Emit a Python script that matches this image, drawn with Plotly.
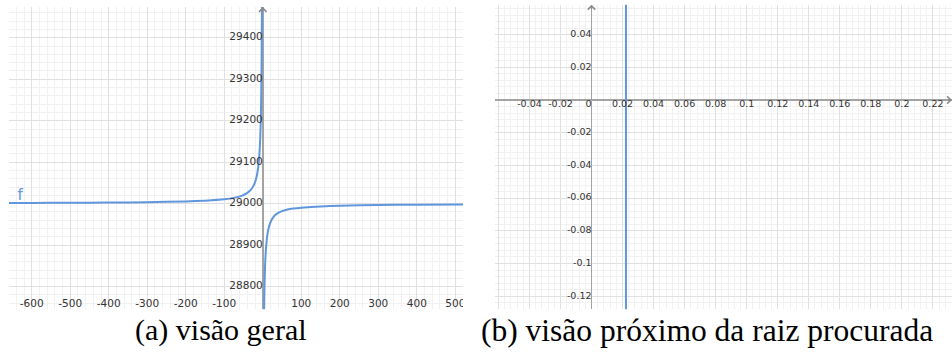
import plotly.graph_objects as go

# ---------------- data ----------------
# panel (a): function f, two branches around the vertical asymptote near x = 0
a_left_x = [-659, -600, -500, -400, -300, -200, -150, -100, -75, -55, -41, -30, -22, -16, -12,
            -10, -8, -6.5, -5.2, -4.2, -3.5, -3, -2.6, -2.2, -1.9]
a_left_y = [29001.7, 29001.9, 29002.3, 29002.8, 29003.6, 29005.4, 29007.2, 29010.5, 29014, 29019,
            29025.5, 29034.5, 29047, 29065, 29087, 29104, 29130, 29160, 29200, 29248, 29297,
            29347, 29400, 29473, 29547]
a_right_x = [3.2, 3.8, 4.5, 5.5, 6.5, 8, 10, 12, 15, 20, 27, 37, 50, 70, 100, 150, 200, 300, 400, 520]
a_right_y = [28719, 28763, 28800, 28836, 28862, 28888, 28910, 28925, 28940, 28955, 28967, 28976,
             28982, 28987, 28990, 28993.5, 28995.3, 28996.8, 28997.5, 28998]
a_xticks = [-600, -500, -400, -300, -200, -100, 100, 200, 300, 400, 500]
a_yticks = [28800, 28900, 29000, 29100, 29200, 29300, 29400]
a_label_f = ["f"]
a_label_fx = [-630]
a_label_fy = [29018]

# panel (b): zoom near the root (curve looks vertical)
b_curve_x = [0.0222, 0.0222]
b_curve_y = [-0.14, 0.07]
b_xticks = [-0.04, -0.02, 0.02, 0.04, 0.06, 0.08, 0.1, 0.12, 0.14, 0.16, 0.18, 0.2, 0.22]
b_xtick_text = ["-0.04", "-0.02", "0.02", "0.04", "0.06", "0.08", "0.1", "0.12", "0.14",
                "0.16", "0.18", "0.2", "0.22"]
b_yticks = [0.04, 0.02, -0.02, -0.04, -0.06, -0.08, -0.1, -0.12]
b_ytick_text = ["0.04", "0.02", "-0.02", "-0.04", "-0.06", "-0.08", "-0.1", "-0.12"]

captions = ["(a) visão geral", "(b) visão próximo da raiz procurada"]

# ---------------- styles ----------------
W, H = 952, 353
BLUE = "#6096dc"
GRID = "#e0e0e0"
MINOR = "#f1f1f1"
AXIS = "#a3a3a3"
TXT = "#333333"
TICKFONT = "DejaVu Sans"

A_X = [-659, 520]
A_Y = [28745.5, 29474]
B_X = [-0.0622, 0.2323]
B_Y = [-0.128, 0.0583]

fig = go.Figure()

# panel (a) curve
fig.add_trace(go.Scatter(x=a_left_x, y=a_left_y, mode="lines",
                         line=dict(color=BLUE, width=2, shape="spline", smoothing=0.5),
                         xaxis="x", yaxis="y", hoverinfo="skip"))
fig.add_trace(go.Scatter(x=a_right_x, y=a_right_y, mode="lines",
                         line=dict(color=BLUE, width=2, shape="spline", smoothing=0.5),
                         xaxis="x", yaxis="y", hoverinfo="skip"))
# panel (a) tick labels
fig.add_trace(go.Scatter(x=a_xticks, y=[A_Y[0]] * len(a_xticks), mode="text",
                         text=[str(v) for v in a_xticks], textposition="top center",
                         textfont=dict(family=TICKFONT, size=10.5, color=TXT),
                         xaxis="x", yaxis="y", hoverinfo="skip", cliponaxis=True))
fig.add_trace(go.Scatter(x=[0] * len(a_yticks), y=a_yticks, mode="text",
                         text=[str(v) for v in a_yticks], textposition="middle left",
                         textfont=dict(family=TICKFONT, size=10.5, color=TXT),
                         xaxis="x", yaxis="y", hoverinfo="skip", cliponaxis=True))
fig.add_trace(go.Scatter(x=a_label_fx, y=a_label_fy, mode="text", text=a_label_f,
                         textposition="middle center",
                         textfont=dict(family=TICKFONT, size=15, color=BLUE),
                         xaxis="x", yaxis="y", hoverinfo="skip"))

# panel (b) curve
fig.add_trace(go.Scatter(x=b_curve_x, y=b_curve_y, mode="lines", line=dict(color=BLUE, width=2),
                         xaxis="x2", yaxis="y2", hoverinfo="skip"))
fig.add_trace(go.Scatter(x=b_xticks, y=[0] * len(b_xticks), mode="text", text=b_xtick_text,
                         textposition="bottom center",
                         textfont=dict(family=TICKFONT, size=9.5, color=TXT),
                         xaxis="x2", yaxis="y2", hoverinfo="skip", cliponaxis=True))
fig.add_trace(go.Scatter(x=[0] * len(b_yticks), y=b_yticks, mode="text", text=b_ytick_text,
                         textposition="middle left",
                         textfont=dict(family=TICKFONT, size=9.5, color=TXT),
                         xaxis="x2", yaxis="y2", hoverinfo="skip", cliponaxis=True))
fig.add_trace(go.Scatter(x=[0], y=[0], mode="text", text=["0"], textposition="bottom left",
                         textfont=dict(family=TICKFONT, size=9.5, color=TXT),
                         xaxis="x2", yaxis="y2", hoverinfo="skip"))


def ax(domain, rng, dtick, minor, zl_width, anchor):
    return dict(domain=domain, range=rng, dtick=dtick, tick0=0, showticklabels=False, ticks="",
                showgrid=True, gridcolor=GRID, gridwidth=1,
                minor=dict(dtick=minor, tick0=0, showgrid=True, gridcolor=MINOR, gridwidth=1),
                zeroline=True, zerolinecolor=AXIS, zerolinewidth=zl_width,
                showline=False, fixedrange=True, anchor=anchor)


fig.update_layout(
    width=W, height=H, margin=dict(l=0, r=0, t=0, b=0),
    paper_bgcolor="white", plot_bgcolor="white", showlegend=False,
    xaxis=ax([9 / W, 463 / W], A_X, 100, 20, 2, "y"),
    yaxis=ax([1 - 309.3 / H, 1 - 7 / H], A_Y, 100, 20, 2, "x"),
    xaxis2=ax([495 / W, 1.0], B_X, 0.02, 0.004, 1.5, "y2"),
    yaxis2=ax([1 - 309.3 / H, 1 - 4.7 / H], B_Y, 0.02, 0.004, 1.5, "x2"),
)

# axis arrows
fig.add_annotation(x=0, y=A_Y[1], xref="x", yref="y", ax=0, ay=6, text="", showarrow=True,
                   arrowhead=4, arrowsize=1.2, arrowwidth=1.2, arrowcolor="#8a8a8a")
fig.add_annotation(x=0, y=B_Y[1], xref="x2", yref="y2", ax=0, ay=6, text="", showarrow=True,
                   arrowhead=4, arrowsize=1.2, arrowwidth=1.2, arrowcolor="#8a8a8a")
fig.add_annotation(x=B_X[1], y=0, xref="x2", yref="y2", ax=-6, ay=0, text="", showarrow=True,
                   arrowhead=4, arrowsize=1.2, arrowwidth=1.2, arrowcolor="#8a8a8a")

# captions
fig.add_annotation(x=221 / W, y=1 - 330 / H, xref="paper", yref="paper", text=captions[0],
                   showarrow=False, font=dict(family="Liberation Serif", size=30, color="black"),
                   xanchor="center", yanchor="middle")
fig.add_annotation(x=707 / W, y=1 - 330 / H, xref="paper", yref="paper", text=captions[1],
                   showarrow=False, font=dict(family="Liberation Serif", size=31.5, color="black"),
                   xanchor="center", yanchor="middle")

fig.write_html(
    "out.html",
    config={"displayModeBar": False, "staticPlot": True},
    post_script="document.body.style.margin='0';document.body.style.overflow='hidden';",
)
